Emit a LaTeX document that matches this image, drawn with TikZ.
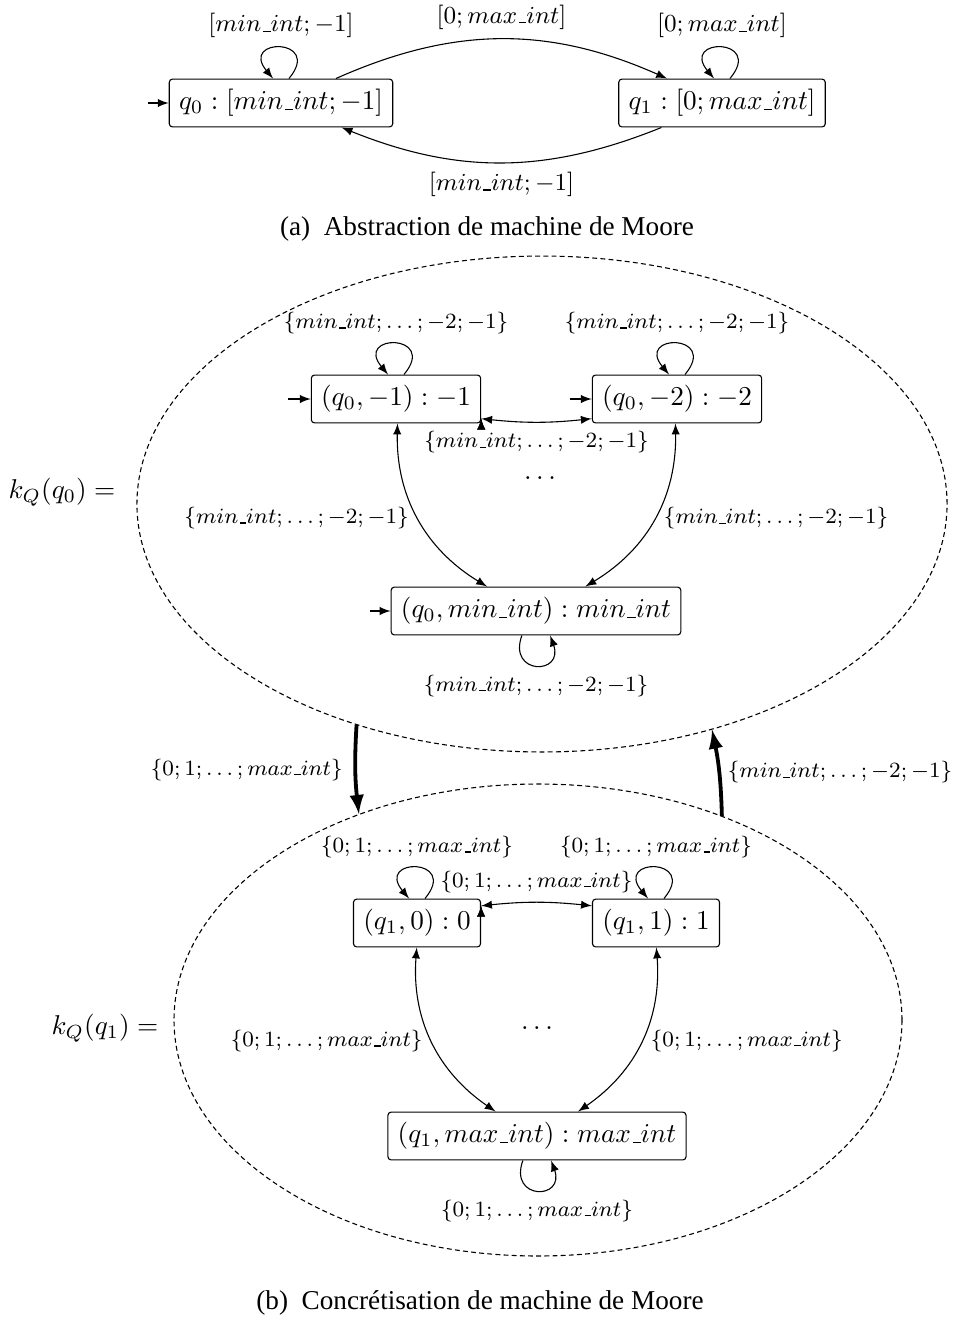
\documentclass[tikz,border=0pt]{standalone}
\usepackage{fontspec}
\newfontfamily\capfont{Liberation Serif}
\usetikzlibrary{arrows,shapes.geometric}
\newcommand{\us}{\kern.06em\vbox{\hrule width.3em}}
\newcommand{\minint}{min\us int}
\newcommand{\maxint}{max\us int}

\begin{document}
\begin{tikzpicture}[x=0.3676pt,y=-0.3676pt,>=latex]
	\tikzstyle{state} = [draw=black,rectangle,rounded corners=1.2pt,minimum height=17.6pt,inner sep=3.6pt];
	\tikzstyle{lbl} = [font=\fontsize{9.5}{11}\selectfont];
	\tikzstyle{slbl} = [font=\footnotesize];
	\tikzstyle{cloud} = [draw=black,ellipse,dash pattern=on 1.8pt off 1.2pt,inner sep=0pt];
	\tikzstyle{captxt} = [font=\capfont];
	\useasboundingbox (0,0) rectangle (952,1323);
	% (a) abstraction
	\node[state] (q0) at (281,103) {$q_0 : [\minint;-1]$};
	\node[state] (q1) at (722,103) {$q_1 : [0;\maxint]$};
	\coordinate (i0) at (148,103);
	\draw[->] (i0) -- (q0);
	\draw[->] (q0.72) .. controls +(50:19.8pt) and +(130:19.8pt) .. node[above,lbl] {$[\minint;-1]$} (q0.108);
	\draw[->] (q1.72) .. controls +(50:19.8pt) and +(130:19.8pt) .. node[above,lbl] {$[0;\maxint]$} (q1.108);
	\draw[->] (q0) edge[bend left=24] node[above,lbl] {$[0;\maxint]$} (q1);
	\draw[->] (q1) edge[bend left=22] node[below,lbl] {$[\minint;-1]$} (q0);
	\node[captxt] (capa) at (487,229) {(a)\hspace{0.5em}Abstraction de machine de Moore};
	% (b) concretisation
	\node[cloud,minimum width=297.8pt,minimum height=182.3pt] (e0) at (542,504) {};
	\node[cloud,minimum width=267.6pt,minimum height=173.5pt] (e1) at (538,1020) {};
	\node (ka) at (62,492) {$k_Q(q_0) =$};
	\node (kb) at (105,1028) {$k_Q(q_1) =$};
	% k_Q(q_0)
	\node[state] (p1) at (396,399) {$(q_0,-1):-1$};
	\node[state] (p2) at (677,399) {$(q_0,-2):-2$};
	\node[state] (pm) at (536,611) {$(q_0,\minint):\minint$};
	\node (d0) at (540,478) {$\dots$};
	\coordinate (i1) at (288,399);
	\coordinate (i2) at (570,399);
	\coordinate (i3) at (370,611);
	\draw[->] (i1) -- (p1);
	\draw[->] (i2) -- (p2);
	\draw[->] (i3) -- (pm);
	\draw[->] (p1.72) .. controls +(50:19.8pt) and +(130:19.8pt) .. node[above,slbl] {$\{\minint;\dots;-2;-1\}$} (p1.108);
	\draw[->] (p2.72) .. controls +(50:19.8pt) and +(130:19.8pt) .. node[above,slbl] {$\{\minint;\dots;-2;-1\}$} (p2.108);
	\draw[->] (pm.240) .. controls +(250:15.6pt) and +(290:15.6pt) .. node[below,slbl] {$\{\minint;\dots;-2;-1\}$} (pm.300);
	\draw[<->] (p1.-13) edge[bend right=6] node[below,slbl] {$\{\minint;\dots;-2;-1\}$} (p2.193);
	\draw[<->] (p1) edge[bend right=30] node[left,slbl] {$\{\minint;\dots;-2;-1\}$} (pm);
	\draw[<->] (p2) edge[bend left=30] node[right,slbl] {$\{\minint;\dots;-2;-1\}$} (pm);
	% k_Q(q_1)
	\node[state] (r0) at (417,923) {$(q_1,0):0$};
	\node[state] (r1) at (656,923) {$(q_1,1):1$};
	\node[state] (rm) at (537,1136) {$(q_1,\maxint):\maxint$};
	\node (d1) at (537,1028) {$\dots$};
	\draw[->] (r0.72) .. controls +(50:19.8pt) and +(130:19.8pt) .. node[above,slbl] {$\{0;1;\dots;\maxint\}$} (r0.108);
	\draw[->] (r1.72) .. controls +(50:19.8pt) and +(130:19.8pt) .. node[above,slbl] {$\{0;1;\dots;\maxint\}$} (r1.108);
	\draw[->] (rm.240) .. controls +(250:15.6pt) and +(290:15.6pt) .. node[below,slbl] {$\{0;1;\dots;\maxint\}$} (rm.300);
	\draw[<->] (r0.15) edge[bend left=6] node[above,slbl] {$\{0;1;\dots;\maxint\}$} (r1.165);
	\draw[<->] (r0) edge[bend right=30] node[left,slbl] {$\{0;1;\dots;\maxint\}$} (rm);
	\draw[<->] (r1) edge[bend left=30] node[right,slbl] {$\{0;1;\dots;\maxint\}$} (rm);
	% between the two sets
	\draw[->,line width=1.4pt] (e0.230) to[bend right=5] node[left,slbl,inner sep=4pt] {$\{0;1;\dots;\maxint\}$} (e1.131.7);
	\draw[->,line width=1.4pt] (e1.48.6) to[bend right=5] node[right,slbl,inner sep=2.5pt] {$\{\minint;\dots;-2;-1\}$} (e0.307.9);
	\node[captxt] (capb) at (480,1303) {(b)\hspace{0.5em}Concrétisation de machine de Moore};
\end{tikzpicture}
\end{document}
